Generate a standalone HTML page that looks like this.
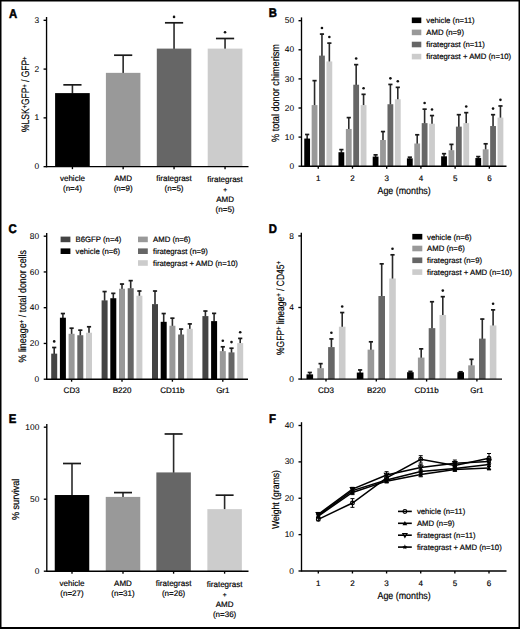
<!DOCTYPE html>
<html><head><meta charset="utf-8"><style>
html,body{margin:0;padding:0;background:#fff;}
body{width:520px;height:629px;overflow:hidden;}
svg{display:block;}
text{font-family:"Liberation Sans", sans-serif;fill:#000;stroke:#000;stroke-width:0.18px;text-rendering:geometricPrecision;}
text.pl{stroke-width:0.5px;}
text.tk{stroke-width:0.05px;}
</style></head><body>
<svg width="520" height="629" viewBox="0 0 520 629">
<rect x="0" y="0" width="520" height="629" fill="#fff"/>
<text transform="translate(9.00 17.50) scale(0.9 1)" x="0" y="0" font-size="12.6" font-weight="bold" class="pl">A</text>
<line x1="72.42" y1="84.55" x2="72.42" y2="93.60" stroke="#2a2a2a" stroke-width="1.6"/>
<line x1="63.32" y1="84.85" x2="81.52" y2="84.85" stroke="#1a1a1a" stroke-width="1.7"/>
<rect x="55.10" y="93.10" width="34.65" height="73.55" fill="#000"/>
<line x1="123.15" y1="54.90" x2="123.15" y2="73.35" stroke="#2a2a2a" stroke-width="1.6"/>
<line x1="114.05" y1="55.20" x2="132.25" y2="55.20" stroke="#1a1a1a" stroke-width="1.7"/>
<rect x="105.90" y="72.85" width="34.50" height="93.80" fill="#999"/>
<line x1="174.05" y1="22.50" x2="174.05" y2="49.10" stroke="#2a2a2a" stroke-width="1.6"/>
<line x1="164.95" y1="22.80" x2="183.15" y2="22.80" stroke="#1a1a1a" stroke-width="1.7"/>
<rect x="156.80" y="48.60" width="34.50" height="118.05" fill="#666"/>
<circle cx="174.05" cy="16.90" r="1.3" fill="#111"/>
<line x1="225.05" y1="38.20" x2="225.05" y2="49.10" stroke="#2a2a2a" stroke-width="1.6"/>
<line x1="215.95" y1="38.50" x2="234.15" y2="38.50" stroke="#1a1a1a" stroke-width="1.7"/>
<rect x="207.70" y="48.60" width="34.70" height="118.05" fill="#ccc"/>
<circle cx="225.05" cy="32.20" r="1.3" fill="#111"/>
<line x1="46.55" y1="17.01" x2="46.55" y2="167.35" stroke="#000" stroke-width="1.35"/>
<line x1="43.55" y1="166.65" x2="46.55" y2="166.65" stroke="#000" stroke-width="1.35"/>
<text transform="translate(39.10 169.25)" font-size="8.4" text-anchor="end" font-weight="normal" class="tk">0</text>
<line x1="43.55" y1="117.87" x2="46.55" y2="117.87" stroke="#000" stroke-width="1.35"/>
<text transform="translate(39.10 120.47)" font-size="8.4" text-anchor="end" font-weight="normal" class="tk">1</text>
<line x1="43.55" y1="69.09" x2="46.55" y2="69.09" stroke="#000" stroke-width="1.35"/>
<text transform="translate(39.10 71.69)" font-size="8.4" text-anchor="end" font-weight="normal" class="tk">2</text>
<line x1="43.55" y1="20.31" x2="46.55" y2="20.31" stroke="#000" stroke-width="1.35"/>
<text transform="translate(39.10 22.91)" font-size="8.4" text-anchor="end" font-weight="normal" class="tk">3</text>
<line x1="46.55" y1="166.65" x2="248.50" y2="166.65" stroke="#000" stroke-width="1.35"/>
<line x1="72.42" y1="166.65" x2="72.42" y2="169.15" stroke="#000" stroke-width="1.35"/>
<line x1="123.15" y1="166.65" x2="123.15" y2="169.15" stroke="#000" stroke-width="1.35"/>
<line x1="174.05" y1="166.65" x2="174.05" y2="169.15" stroke="#000" stroke-width="1.35"/>
<line x1="225.05" y1="166.65" x2="225.05" y2="169.15" stroke="#000" stroke-width="1.35"/>
<text transform="translate(29.00 94.25) rotate(-90)" x="0" y="0" font-size="10.8" text-anchor="middle" textLength="75.3" lengthAdjust="spacingAndGlyphs">%LSK<tspan font-size="7.4" dy="-2.3">+</tspan><tspan dy="2.3">GFP</tspan><tspan font-size="7.4" dy="-2.3">+</tspan><tspan dy="2.3"> / GFP</tspan><tspan font-size="7.4" dy="-2.3">+</tspan></text>
<text transform="translate(72.42 181.20)" font-size="8" text-anchor="middle" font-weight="normal">vehicle</text>
<text transform="translate(72.42 191.00)" font-size="8" text-anchor="middle" font-weight="normal">(n=4)</text>
<text transform="translate(123.15 181.20)" font-size="8" text-anchor="middle" font-weight="normal">AMD</text>
<text transform="translate(123.15 191.00)" font-size="8" text-anchor="middle" font-weight="normal">(n=9)</text>
<text transform="translate(174.05 181.20)" font-size="8" text-anchor="middle" font-weight="normal">firategrast</text>
<text transform="translate(174.05 191.00)" font-size="8" text-anchor="middle" font-weight="normal">(n=5)</text>
<text transform="translate(225.05 182.30)" font-size="8" text-anchor="middle" font-weight="normal">firategrast</text>
<text transform="translate(225.05 192.10)" font-size="6.6" text-anchor="middle" font-weight="normal">+</text>
<text transform="translate(225.05 201.90)" font-size="8" text-anchor="middle" font-weight="normal">AMD</text>
<text transform="translate(225.05 211.70)" font-size="8" text-anchor="middle" font-weight="normal">(n=5)</text>
<text transform="translate(268.70 17.10) scale(0.9 1)" x="0" y="0" font-size="12.6" font-weight="bold" class="pl">B</text>
<line x1="307.15" y1="134.19" x2="307.15" y2="139.05" stroke="#2a2a2a" stroke-width="1.6"/>
<line x1="305.05" y1="134.49" x2="309.25" y2="134.49" stroke="#1a1a1a" stroke-width="1.7"/>
<rect x="304.25" y="138.55" width="5.80" height="27.65" fill="#000"/>
<line x1="314.55" y1="80.35" x2="314.55" y2="105.59" stroke="#2a2a2a" stroke-width="1.6"/>
<line x1="312.45" y1="80.65" x2="316.65" y2="80.65" stroke="#1a1a1a" stroke-width="1.7"/>
<rect x="311.65" y="105.09" width="5.80" height="61.11" fill="#999"/>
<line x1="321.95" y1="33.79" x2="321.95" y2="56.12" stroke="#2a2a2a" stroke-width="1.6"/>
<line x1="319.85" y1="34.09" x2="324.05" y2="34.09" stroke="#1a1a1a" stroke-width="1.7"/>
<rect x="319.05" y="55.62" width="5.80" height="110.58" fill="#666"/>
<circle cx="321.95" cy="27.99" r="1.3" fill="#111"/>
<line x1="329.35" y1="42.82" x2="329.35" y2="61.94" stroke="#2a2a2a" stroke-width="1.6"/>
<line x1="327.25" y1="43.12" x2="331.45" y2="43.12" stroke="#1a1a1a" stroke-width="1.7"/>
<rect x="326.45" y="61.44" width="5.80" height="104.76" fill="#ccc"/>
<circle cx="329.35" cy="37.02" r="1.3" fill="#111"/>
<line x1="341.37" y1="149.32" x2="341.37" y2="152.73" stroke="#2a2a2a" stroke-width="1.6"/>
<line x1="339.27" y1="149.62" x2="343.47" y2="149.62" stroke="#1a1a1a" stroke-width="1.7"/>
<rect x="338.47" y="152.23" width="5.80" height="13.97" fill="#000"/>
<line x1="348.77" y1="117.31" x2="348.77" y2="129.45" stroke="#2a2a2a" stroke-width="1.6"/>
<line x1="346.67" y1="117.61" x2="350.87" y2="117.61" stroke="#1a1a1a" stroke-width="1.7"/>
<rect x="345.87" y="128.95" width="5.80" height="37.25" fill="#999"/>
<line x1="356.17" y1="64.35" x2="356.17" y2="85.22" stroke="#2a2a2a" stroke-width="1.6"/>
<line x1="354.07" y1="64.65" x2="358.27" y2="64.65" stroke="#1a1a1a" stroke-width="1.7"/>
<rect x="353.27" y="84.72" width="5.80" height="81.48" fill="#666"/>
<circle cx="356.17" cy="58.55" r="1.3" fill="#111"/>
<line x1="363.57" y1="94.03" x2="363.57" y2="105.59" stroke="#2a2a2a" stroke-width="1.6"/>
<line x1="361.47" y1="94.33" x2="365.67" y2="94.33" stroke="#1a1a1a" stroke-width="1.7"/>
<rect x="360.67" y="105.09" width="5.80" height="61.11" fill="#ccc"/>
<circle cx="363.57" cy="88.23" r="1.3" fill="#111"/>
<line x1="375.59" y1="154.56" x2="375.59" y2="157.10" stroke="#2a2a2a" stroke-width="1.6"/>
<line x1="373.49" y1="154.86" x2="377.69" y2="154.86" stroke="#1a1a1a" stroke-width="1.7"/>
<rect x="372.69" y="156.60" width="5.80" height="9.60" fill="#000"/>
<line x1="382.99" y1="131.28" x2="382.99" y2="140.51" stroke="#2a2a2a" stroke-width="1.6"/>
<line x1="380.89" y1="131.58" x2="385.09" y2="131.58" stroke="#1a1a1a" stroke-width="1.7"/>
<rect x="380.09" y="140.01" width="5.80" height="26.19" fill="#999"/>
<line x1="390.39" y1="84.14" x2="390.39" y2="104.72" stroke="#2a2a2a" stroke-width="1.6"/>
<line x1="388.29" y1="84.44" x2="392.49" y2="84.44" stroke="#1a1a1a" stroke-width="1.7"/>
<rect x="387.49" y="104.22" width="5.80" height="61.98" fill="#666"/>
<circle cx="390.39" cy="78.34" r="1.3" fill="#111"/>
<line x1="397.79" y1="87.05" x2="397.79" y2="99.77" stroke="#2a2a2a" stroke-width="1.6"/>
<line x1="395.69" y1="87.35" x2="399.89" y2="87.35" stroke="#1a1a1a" stroke-width="1.7"/>
<rect x="394.89" y="99.27" width="5.80" height="66.93" fill="#ccc"/>
<circle cx="397.79" cy="81.25" r="1.3" fill="#111"/>
<line x1="409.81" y1="156.89" x2="409.81" y2="158.84" stroke="#2a2a2a" stroke-width="1.6"/>
<line x1="407.71" y1="157.19" x2="411.91" y2="157.19" stroke="#1a1a1a" stroke-width="1.7"/>
<rect x="406.91" y="158.34" width="5.80" height="7.86" fill="#000"/>
<line x1="417.21" y1="134.48" x2="417.21" y2="144.00" stroke="#2a2a2a" stroke-width="1.6"/>
<line x1="415.11" y1="134.78" x2="419.31" y2="134.78" stroke="#1a1a1a" stroke-width="1.7"/>
<rect x="414.31" y="143.50" width="5.80" height="22.70" fill="#999"/>
<line x1="424.61" y1="108.87" x2="424.61" y2="123.63" stroke="#2a2a2a" stroke-width="1.6"/>
<line x1="422.51" y1="109.17" x2="426.71" y2="109.17" stroke="#1a1a1a" stroke-width="1.7"/>
<rect x="421.71" y="123.13" width="5.80" height="43.07" fill="#666"/>
<circle cx="424.61" cy="103.07" r="1.3" fill="#111"/>
<line x1="432.01" y1="115.27" x2="432.01" y2="124.21" stroke="#2a2a2a" stroke-width="1.6"/>
<line x1="429.91" y1="115.57" x2="434.11" y2="115.57" stroke="#1a1a1a" stroke-width="1.7"/>
<rect x="429.11" y="123.71" width="5.80" height="42.49" fill="#ccc"/>
<circle cx="432.01" cy="109.47" r="1.3" fill="#111"/>
<line x1="444.03" y1="153.40" x2="444.03" y2="156.81" stroke="#2a2a2a" stroke-width="1.6"/>
<line x1="441.93" y1="153.70" x2="446.13" y2="153.70" stroke="#1a1a1a" stroke-width="1.7"/>
<rect x="441.13" y="156.31" width="5.80" height="9.89" fill="#000"/>
<line x1="451.43" y1="144.08" x2="451.43" y2="150.69" stroke="#2a2a2a" stroke-width="1.6"/>
<line x1="449.33" y1="144.38" x2="453.53" y2="144.38" stroke="#1a1a1a" stroke-width="1.7"/>
<rect x="448.53" y="150.19" width="5.80" height="16.00" fill="#999"/>
<line x1="458.83" y1="114.40" x2="458.83" y2="127.12" stroke="#2a2a2a" stroke-width="1.6"/>
<line x1="456.73" y1="114.70" x2="460.93" y2="114.70" stroke="#1a1a1a" stroke-width="1.7"/>
<rect x="455.93" y="126.62" width="5.80" height="39.58" fill="#666"/>
<line x1="466.23" y1="112.36" x2="466.23" y2="123.63" stroke="#2a2a2a" stroke-width="1.6"/>
<line x1="464.13" y1="112.66" x2="468.33" y2="112.66" stroke="#1a1a1a" stroke-width="1.7"/>
<rect x="463.33" y="123.13" width="5.80" height="43.07" fill="#ccc"/>
<circle cx="466.23" cy="106.56" r="1.3" fill="#111"/>
<line x1="478.25" y1="156.31" x2="478.25" y2="158.55" stroke="#2a2a2a" stroke-width="1.6"/>
<line x1="476.15" y1="156.61" x2="480.35" y2="156.61" stroke="#1a1a1a" stroke-width="1.7"/>
<rect x="475.35" y="158.05" width="5.80" height="8.15" fill="#000"/>
<line x1="485.65" y1="143.50" x2="485.65" y2="149.82" stroke="#2a2a2a" stroke-width="1.6"/>
<line x1="483.55" y1="143.80" x2="487.75" y2="143.80" stroke="#1a1a1a" stroke-width="1.7"/>
<rect x="482.75" y="149.32" width="5.80" height="16.88" fill="#999"/>
<line x1="493.05" y1="114.40" x2="493.05" y2="126.54" stroke="#2a2a2a" stroke-width="1.6"/>
<line x1="490.95" y1="114.70" x2="495.15" y2="114.70" stroke="#1a1a1a" stroke-width="1.7"/>
<rect x="490.15" y="126.04" width="5.80" height="40.16" fill="#666"/>
<circle cx="493.05" cy="108.60" r="1.3" fill="#111"/>
<line x1="500.45" y1="105.67" x2="500.45" y2="118.10" stroke="#2a2a2a" stroke-width="1.6"/>
<line x1="498.35" y1="105.97" x2="502.55" y2="105.97" stroke="#1a1a1a" stroke-width="1.7"/>
<rect x="497.55" y="117.60" width="5.80" height="48.60" fill="#ccc"/>
<circle cx="500.45" cy="99.87" r="1.3" fill="#111"/>
<line x1="301.50" y1="17.40" x2="301.50" y2="166.90" stroke="#000" stroke-width="1.35"/>
<line x1="298.50" y1="166.20" x2="301.50" y2="166.20" stroke="#000" stroke-width="1.35"/>
<text transform="translate(294.20 168.80)" font-size="8.4" text-anchor="end" font-weight="normal" class="tk">0</text>
<line x1="298.50" y1="137.10" x2="301.50" y2="137.10" stroke="#000" stroke-width="1.35"/>
<text transform="translate(294.20 139.70)" font-size="8.4" text-anchor="end" font-weight="normal" class="tk">10</text>
<line x1="298.50" y1="108.00" x2="301.50" y2="108.00" stroke="#000" stroke-width="1.35"/>
<text transform="translate(294.20 110.60)" font-size="8.4" text-anchor="end" font-weight="normal" class="tk">20</text>
<line x1="298.50" y1="78.90" x2="301.50" y2="78.90" stroke="#000" stroke-width="1.35"/>
<text transform="translate(294.20 81.50)" font-size="8.4" text-anchor="end" font-weight="normal" class="tk">30</text>
<line x1="298.50" y1="49.80" x2="301.50" y2="49.80" stroke="#000" stroke-width="1.35"/>
<text transform="translate(294.20 52.40)" font-size="8.4" text-anchor="end" font-weight="normal" class="tk">40</text>
<line x1="298.50" y1="20.70" x2="301.50" y2="20.70" stroke="#000" stroke-width="1.35"/>
<text transform="translate(294.20 23.30)" font-size="8.4" text-anchor="end" font-weight="normal" class="tk">50</text>
<line x1="301.50" y1="166.20" x2="506.50" y2="166.20" stroke="#000" stroke-width="1.35"/>
<line x1="318.25" y1="166.20" x2="318.25" y2="168.70" stroke="#000" stroke-width="1.35"/>
<line x1="352.47" y1="166.20" x2="352.47" y2="168.70" stroke="#000" stroke-width="1.35"/>
<line x1="386.69" y1="166.20" x2="386.69" y2="168.70" stroke="#000" stroke-width="1.35"/>
<line x1="420.91" y1="166.20" x2="420.91" y2="168.70" stroke="#000" stroke-width="1.35"/>
<line x1="455.13" y1="166.20" x2="455.13" y2="168.70" stroke="#000" stroke-width="1.35"/>
<line x1="489.35" y1="166.20" x2="489.35" y2="168.70" stroke="#000" stroke-width="1.35"/>
<text transform="translate(318.25 181.00)" font-size="8" text-anchor="middle" font-weight="normal">1</text>
<text transform="translate(352.47 181.00)" font-size="8" text-anchor="middle" font-weight="normal">2</text>
<text transform="translate(386.69 181.00)" font-size="8" text-anchor="middle" font-weight="normal">3</text>
<text transform="translate(420.91 181.00)" font-size="8" text-anchor="middle" font-weight="normal">4</text>
<text transform="translate(455.13 181.00)" font-size="8" text-anchor="middle" font-weight="normal">5</text>
<text transform="translate(489.35 181.00)" font-size="8" text-anchor="middle" font-weight="normal">6</text>
<text transform="translate(404.10 193.50)" x="0" y="0" font-size="10" text-anchor="middle" textLength="53.3" lengthAdjust="spacingAndGlyphs">Age (months)</text>
<text transform="translate(279.00 93.05) rotate(-90)" x="0" y="0" font-size="10.6" text-anchor="middle" textLength="97.9" lengthAdjust="spacingAndGlyphs">% total donor chimerism</text>
<rect x="411.80" y="17.50" width="9.50" height="5.60" fill="#000"/>
<text transform="translate(426.30 23.10)" font-size="7.75" text-anchor="start" font-weight="normal">vehicle (n=11)</text>
<rect x="411.80" y="29.60" width="9.50" height="5.60" fill="#999"/>
<text transform="translate(426.30 35.20)" font-size="7.75" text-anchor="start" font-weight="normal">AMD (n=9)</text>
<rect x="411.80" y="41.70" width="9.50" height="5.60" fill="#666"/>
<text transform="translate(426.30 47.30)" font-size="7.75" text-anchor="start" font-weight="normal">firategrast (n=11)</text>
<rect x="411.80" y="53.80" width="9.50" height="5.60" fill="#ccc"/>
<text transform="translate(426.30 59.40)" font-size="7.75" text-anchor="start" font-weight="normal">firategrast + AMD (n=10)</text>
<text transform="translate(8.60 233.10) scale(0.9 1)" x="0" y="0" font-size="12.6" font-weight="bold" class="pl">C</text>
<line x1="54.20" y1="347.20" x2="54.20" y2="354.14" stroke="#2a2a2a" stroke-width="1.6"/>
<line x1="52.10" y1="347.50" x2="56.30" y2="347.50" stroke="#1a1a1a" stroke-width="1.7"/>
<rect x="51.20" y="353.64" width="6.00" height="25.56" fill="#444"/>
<circle cx="54.20" cy="341.40" r="1.3" fill="#111"/>
<line x1="62.90" y1="313.24" x2="62.90" y2="318.21" stroke="#2a2a2a" stroke-width="1.6"/>
<line x1="60.80" y1="313.54" x2="65.00" y2="313.54" stroke="#1a1a1a" stroke-width="1.7"/>
<rect x="59.90" y="317.71" width="6.00" height="61.49" fill="#000"/>
<line x1="71.60" y1="327.90" x2="71.60" y2="334.30" stroke="#2a2a2a" stroke-width="1.6"/>
<line x1="69.50" y1="328.20" x2="73.70" y2="328.20" stroke="#1a1a1a" stroke-width="1.7"/>
<rect x="68.60" y="333.80" width="6.00" height="45.40" fill="#999"/>
<line x1="80.30" y1="329.87" x2="80.30" y2="335.73" stroke="#2a2a2a" stroke-width="1.6"/>
<line x1="78.20" y1="330.17" x2="82.40" y2="330.17" stroke="#1a1a1a" stroke-width="1.7"/>
<rect x="77.30" y="335.23" width="6.00" height="43.97" fill="#666"/>
<line x1="89.00" y1="326.47" x2="89.00" y2="333.22" stroke="#2a2a2a" stroke-width="1.6"/>
<line x1="86.90" y1="326.77" x2="91.10" y2="326.77" stroke="#1a1a1a" stroke-width="1.7"/>
<rect x="86.00" y="332.72" width="6.00" height="46.48" fill="#ccc"/>
<line x1="104.60" y1="291.25" x2="104.60" y2="300.87" stroke="#2a2a2a" stroke-width="1.6"/>
<line x1="102.50" y1="291.56" x2="106.70" y2="291.56" stroke="#1a1a1a" stroke-width="1.7"/>
<rect x="101.60" y="300.37" width="6.00" height="78.83" fill="#444"/>
<line x1="113.30" y1="293.04" x2="113.30" y2="298.73" stroke="#2a2a2a" stroke-width="1.6"/>
<line x1="111.20" y1="293.34" x2="115.40" y2="293.34" stroke="#1a1a1a" stroke-width="1.7"/>
<rect x="110.30" y="298.23" width="6.00" height="80.97" fill="#000"/>
<line x1="122.00" y1="283.75" x2="122.00" y2="289.25" stroke="#2a2a2a" stroke-width="1.6"/>
<line x1="119.90" y1="284.05" x2="124.10" y2="284.05" stroke="#1a1a1a" stroke-width="1.7"/>
<rect x="119.00" y="288.75" width="6.00" height="90.45" fill="#999"/>
<line x1="130.70" y1="280.35" x2="130.70" y2="288.72" stroke="#2a2a2a" stroke-width="1.6"/>
<line x1="128.60" y1="280.65" x2="132.80" y2="280.65" stroke="#1a1a1a" stroke-width="1.7"/>
<rect x="127.70" y="288.22" width="6.00" height="90.98" fill="#666"/>
<line x1="139.40" y1="290.72" x2="139.40" y2="296.22" stroke="#2a2a2a" stroke-width="1.6"/>
<line x1="137.30" y1="291.02" x2="141.50" y2="291.02" stroke="#1a1a1a" stroke-width="1.7"/>
<rect x="136.40" y="295.72" width="6.00" height="83.48" fill="#ccc"/>
<line x1="155.00" y1="290.72" x2="155.00" y2="304.62" stroke="#2a2a2a" stroke-width="1.6"/>
<line x1="152.90" y1="291.02" x2="157.10" y2="291.02" stroke="#1a1a1a" stroke-width="1.7"/>
<rect x="152.00" y="304.12" width="6.00" height="75.07" fill="#444"/>
<line x1="163.70" y1="313.24" x2="163.70" y2="322.32" stroke="#2a2a2a" stroke-width="1.6"/>
<line x1="161.60" y1="313.54" x2="165.80" y2="313.54" stroke="#1a1a1a" stroke-width="1.7"/>
<rect x="160.70" y="321.82" width="6.00" height="57.38" fill="#000"/>
<line x1="172.40" y1="317.89" x2="172.40" y2="326.25" stroke="#2a2a2a" stroke-width="1.6"/>
<line x1="170.30" y1="318.19" x2="174.50" y2="318.19" stroke="#1a1a1a" stroke-width="1.7"/>
<rect x="169.40" y="325.75" width="6.00" height="53.45" fill="#999"/>
<line x1="181.10" y1="328.79" x2="181.10" y2="335.01" stroke="#2a2a2a" stroke-width="1.6"/>
<line x1="179.00" y1="329.09" x2="183.20" y2="329.09" stroke="#1a1a1a" stroke-width="1.7"/>
<rect x="178.10" y="334.51" width="6.00" height="44.69" fill="#666"/>
<line x1="189.80" y1="323.61" x2="189.80" y2="329.29" stroke="#2a2a2a" stroke-width="1.6"/>
<line x1="187.70" y1="323.91" x2="191.90" y2="323.91" stroke="#1a1a1a" stroke-width="1.7"/>
<rect x="186.80" y="328.79" width="6.00" height="50.41" fill="#ccc"/>
<line x1="205.40" y1="310.74" x2="205.40" y2="316.60" stroke="#2a2a2a" stroke-width="1.6"/>
<line x1="203.30" y1="311.04" x2="207.50" y2="311.04" stroke="#1a1a1a" stroke-width="1.7"/>
<rect x="202.40" y="316.10" width="6.00" height="63.10" fill="#444"/>
<line x1="214.10" y1="313.06" x2="214.10" y2="321.61" stroke="#2a2a2a" stroke-width="1.6"/>
<line x1="212.00" y1="313.36" x2="216.20" y2="313.36" stroke="#1a1a1a" stroke-width="1.7"/>
<rect x="211.10" y="321.11" width="6.00" height="58.09" fill="#000"/>
<line x1="222.80" y1="346.49" x2="222.80" y2="351.64" stroke="#2a2a2a" stroke-width="1.6"/>
<line x1="220.70" y1="346.79" x2="224.90" y2="346.79" stroke="#1a1a1a" stroke-width="1.7"/>
<rect x="219.80" y="351.14" width="6.00" height="28.06" fill="#999"/>
<circle cx="222.80" cy="340.69" r="1.3" fill="#111"/>
<line x1="231.50" y1="347.92" x2="231.50" y2="352.89" stroke="#2a2a2a" stroke-width="1.6"/>
<line x1="229.40" y1="348.22" x2="233.60" y2="348.22" stroke="#1a1a1a" stroke-width="1.7"/>
<rect x="228.50" y="352.39" width="6.00" height="26.81" fill="#666"/>
<circle cx="231.50" cy="342.12" r="1.3" fill="#111"/>
<line x1="240.20" y1="338.09" x2="240.20" y2="343.59" stroke="#2a2a2a" stroke-width="1.6"/>
<line x1="238.10" y1="338.39" x2="242.30" y2="338.39" stroke="#1a1a1a" stroke-width="1.7"/>
<rect x="237.20" y="343.09" width="6.00" height="36.11" fill="#ccc"/>
<circle cx="240.20" cy="332.29" r="1.3" fill="#111"/>
<line x1="46.70" y1="232.90" x2="46.70" y2="379.90" stroke="#000" stroke-width="1.35"/>
<line x1="43.70" y1="379.20" x2="46.70" y2="379.20" stroke="#000" stroke-width="1.35"/>
<text transform="translate(39.20 381.80)" font-size="8.4" text-anchor="end" font-weight="normal" class="tk">0</text>
<line x1="43.70" y1="343.45" x2="46.70" y2="343.45" stroke="#000" stroke-width="1.35"/>
<text transform="translate(39.20 346.05)" font-size="8.4" text-anchor="end" font-weight="normal" class="tk">20</text>
<line x1="43.70" y1="307.70" x2="46.70" y2="307.70" stroke="#000" stroke-width="1.35"/>
<text transform="translate(39.20 310.30)" font-size="8.4" text-anchor="end" font-weight="normal" class="tk">40</text>
<line x1="43.70" y1="271.95" x2="46.70" y2="271.95" stroke="#000" stroke-width="1.35"/>
<text transform="translate(39.20 274.55)" font-size="8.4" text-anchor="end" font-weight="normal" class="tk">60</text>
<line x1="43.70" y1="236.20" x2="46.70" y2="236.20" stroke="#000" stroke-width="1.35"/>
<text transform="translate(39.20 238.80)" font-size="8.4" text-anchor="end" font-weight="normal" class="tk">80</text>
<line x1="46.70" y1="379.20" x2="248.00" y2="379.20" stroke="#000" stroke-width="1.35"/>
<line x1="71.60" y1="379.20" x2="71.60" y2="381.70" stroke="#000" stroke-width="1.35"/>
<line x1="122.00" y1="379.20" x2="122.00" y2="381.70" stroke="#000" stroke-width="1.35"/>
<line x1="172.40" y1="379.20" x2="172.40" y2="381.70" stroke="#000" stroke-width="1.35"/>
<line x1="222.80" y1="379.20" x2="222.80" y2="381.70" stroke="#000" stroke-width="1.35"/>
<text transform="translate(71.60 393.30)" font-size="8" text-anchor="middle" font-weight="normal">CD3</text>
<text transform="translate(122.00 393.30)" font-size="8" text-anchor="middle" font-weight="normal">B220</text>
<text transform="translate(172.40 393.30)" font-size="8" text-anchor="middle" font-weight="normal">CD11b</text>
<text transform="translate(222.80 393.30)" font-size="8" text-anchor="middle" font-weight="normal">Gr1</text>
<text transform="translate(26.00 306.25) rotate(-90)" x="0" y="0" font-size="10.6" text-anchor="middle" textLength="112.5" lengthAdjust="spacingAndGlyphs">% lineage<tspan font-size="7.4" dy="-2.3">+</tspan><tspan dy="2.3"> / total donor cells</tspan></text>
<rect x="60.60" y="236.60" width="9.80" height="5.60" fill="#444"/>
<text transform="translate(75.60 242.20)" font-size="7.75" text-anchor="start" font-weight="normal">B6GFP (n=4)</text>
<rect x="60.60" y="248.40" width="9.80" height="5.60" fill="#000"/>
<text transform="translate(75.60 254.00)" font-size="7.75" text-anchor="start" font-weight="normal">vehicle (n=6)</text>
<rect x="138.00" y="236.60" width="9.80" height="5.60" fill="#999"/>
<text transform="translate(153.00 242.20)" font-size="7.75" text-anchor="start" font-weight="normal">AMD (n=6)</text>
<rect x="138.00" y="248.40" width="9.80" height="5.60" fill="#666"/>
<text transform="translate(153.00 254.00)" font-size="7.75" text-anchor="start" font-weight="normal">firategrast (n=9)</text>
<rect x="138.00" y="260.20" width="9.80" height="5.60" fill="#ccc"/>
<text transform="translate(153.00 265.80)" font-size="7.75" text-anchor="start" font-weight="normal">firategrast + AMD (n=10)</text>
<text transform="translate(268.70 232.90) scale(0.9 1)" x="0" y="0" font-size="12.6" font-weight="bold" class="pl">D</text>
<line x1="309.80" y1="372.19" x2="309.80" y2="374.86" stroke="#2a2a2a" stroke-width="1.6"/>
<line x1="307.70" y1="372.49" x2="311.90" y2="372.49" stroke="#1a1a1a" stroke-width="1.7"/>
<rect x="306.50" y="374.36" width="6.60" height="4.69" fill="#000"/>
<line x1="320.60" y1="363.35" x2="320.60" y2="368.72" stroke="#2a2a2a" stroke-width="1.6"/>
<line x1="318.50" y1="363.65" x2="322.70" y2="363.65" stroke="#1a1a1a" stroke-width="1.7"/>
<rect x="317.30" y="368.22" width="6.60" height="10.83" fill="#999"/>
<line x1="331.40" y1="338.62" x2="331.40" y2="347.60" stroke="#2a2a2a" stroke-width="1.6"/>
<line x1="329.30" y1="338.92" x2="333.50" y2="338.92" stroke="#1a1a1a" stroke-width="1.7"/>
<rect x="328.10" y="347.10" width="6.60" height="31.95" fill="#666"/>
<circle cx="331.40" cy="332.82" r="1.3" fill="#111"/>
<line x1="342.20" y1="312.26" x2="342.20" y2="327.21" stroke="#2a2a2a" stroke-width="1.6"/>
<line x1="340.10" y1="312.56" x2="344.30" y2="312.56" stroke="#1a1a1a" stroke-width="1.7"/>
<rect x="338.90" y="326.71" width="6.60" height="52.34" fill="#ccc"/>
<circle cx="342.20" cy="306.46" r="1.3" fill="#111"/>
<line x1="360.10" y1="369.66" x2="360.10" y2="373.05" stroke="#2a2a2a" stroke-width="1.6"/>
<line x1="358.00" y1="369.96" x2="362.20" y2="369.96" stroke="#1a1a1a" stroke-width="1.7"/>
<rect x="356.80" y="372.55" width="6.60" height="6.50" fill="#000"/>
<line x1="370.90" y1="341.51" x2="370.90" y2="350.13" stroke="#2a2a2a" stroke-width="1.6"/>
<line x1="368.80" y1="341.81" x2="373.00" y2="341.81" stroke="#1a1a1a" stroke-width="1.7"/>
<rect x="367.60" y="349.63" width="6.60" height="29.42" fill="#999"/>
<line x1="381.70" y1="263.53" x2="381.70" y2="296.52" stroke="#2a2a2a" stroke-width="1.6"/>
<line x1="379.60" y1="263.83" x2="383.80" y2="263.83" stroke="#1a1a1a" stroke-width="1.7"/>
<rect x="378.40" y="296.02" width="6.60" height="83.03" fill="#666"/>
<line x1="392.50" y1="254.50" x2="392.50" y2="279.01" stroke="#2a2a2a" stroke-width="1.6"/>
<line x1="390.40" y1="254.81" x2="394.60" y2="254.81" stroke="#1a1a1a" stroke-width="1.7"/>
<rect x="389.20" y="278.51" width="6.60" height="100.54" fill="#ccc"/>
<circle cx="392.50" cy="248.70" r="1.3" fill="#111"/>
<line x1="410.40" y1="371.11" x2="410.40" y2="372.69" stroke="#2a2a2a" stroke-width="1.6"/>
<line x1="408.30" y1="371.41" x2="412.50" y2="371.41" stroke="#1a1a1a" stroke-width="1.7"/>
<rect x="407.10" y="372.19" width="6.60" height="6.86" fill="#000"/>
<line x1="421.20" y1="348.55" x2="421.20" y2="358.07" stroke="#2a2a2a" stroke-width="1.6"/>
<line x1="419.10" y1="348.85" x2="423.30" y2="348.85" stroke="#1a1a1a" stroke-width="1.7"/>
<rect x="417.90" y="357.57" width="6.60" height="21.48" fill="#999"/>
<line x1="432.00" y1="301.44" x2="432.00" y2="328.65" stroke="#2a2a2a" stroke-width="1.6"/>
<line x1="429.90" y1="301.74" x2="434.10" y2="301.74" stroke="#1a1a1a" stroke-width="1.7"/>
<rect x="428.70" y="328.15" width="6.60" height="50.90" fill="#666"/>
<line x1="442.80" y1="296.38" x2="442.80" y2="315.47" stroke="#2a2a2a" stroke-width="1.6"/>
<line x1="440.70" y1="296.68" x2="444.90" y2="296.68" stroke="#1a1a1a" stroke-width="1.7"/>
<rect x="439.50" y="314.97" width="6.60" height="64.08" fill="#ccc"/>
<circle cx="442.80" cy="290.58" r="1.3" fill="#111"/>
<line x1="460.70" y1="371.47" x2="460.70" y2="372.69" stroke="#2a2a2a" stroke-width="1.6"/>
<line x1="458.60" y1="371.77" x2="462.80" y2="371.77" stroke="#1a1a1a" stroke-width="1.7"/>
<rect x="457.40" y="372.19" width="6.60" height="6.86" fill="#000"/>
<line x1="471.50" y1="359.01" x2="471.50" y2="365.83" stroke="#2a2a2a" stroke-width="1.6"/>
<line x1="469.40" y1="359.31" x2="473.60" y2="359.31" stroke="#1a1a1a" stroke-width="1.7"/>
<rect x="468.20" y="365.33" width="6.60" height="13.72" fill="#999"/>
<line x1="482.30" y1="318.76" x2="482.30" y2="339.12" stroke="#2a2a2a" stroke-width="1.6"/>
<line x1="480.20" y1="319.06" x2="484.40" y2="319.06" stroke="#1a1a1a" stroke-width="1.7"/>
<rect x="479.00" y="338.62" width="6.60" height="40.43" fill="#666"/>
<line x1="493.10" y1="309.56" x2="493.10" y2="325.94" stroke="#2a2a2a" stroke-width="1.6"/>
<line x1="491.00" y1="309.86" x2="495.20" y2="309.86" stroke="#1a1a1a" stroke-width="1.7"/>
<rect x="489.80" y="325.44" width="6.60" height="53.61" fill="#ccc"/>
<circle cx="493.10" cy="303.76" r="1.3" fill="#111"/>
<line x1="301.30" y1="232.63" x2="301.30" y2="379.75" stroke="#000" stroke-width="1.35"/>
<line x1="298.30" y1="379.05" x2="301.30" y2="379.05" stroke="#000" stroke-width="1.35"/>
<text transform="translate(293.90 381.65)" font-size="8.4" text-anchor="end" font-weight="normal" class="tk">0</text>
<line x1="298.30" y1="307.49" x2="301.30" y2="307.49" stroke="#000" stroke-width="1.35"/>
<text transform="translate(293.90 310.09)" font-size="8.4" text-anchor="end" font-weight="normal" class="tk">4</text>
<line x1="298.30" y1="235.93" x2="301.30" y2="235.93" stroke="#000" stroke-width="1.35"/>
<text transform="translate(293.90 238.53)" font-size="8.4" text-anchor="end" font-weight="normal" class="tk">8</text>
<line x1="301.30" y1="379.05" x2="502.00" y2="379.05" stroke="#000" stroke-width="1.35"/>
<line x1="326.00" y1="379.05" x2="326.00" y2="381.55" stroke="#000" stroke-width="1.35"/>
<line x1="376.30" y1="379.05" x2="376.30" y2="381.55" stroke="#000" stroke-width="1.35"/>
<line x1="426.60" y1="379.05" x2="426.60" y2="381.55" stroke="#000" stroke-width="1.35"/>
<line x1="476.90" y1="379.05" x2="476.90" y2="381.55" stroke="#000" stroke-width="1.35"/>
<text transform="translate(326.00 393.30)" font-size="8" text-anchor="middle" font-weight="normal">CD3</text>
<text transform="translate(376.30 393.30)" font-size="8" text-anchor="middle" font-weight="normal">B220</text>
<text transform="translate(426.60 393.30)" font-size="8" text-anchor="middle" font-weight="normal">CD11b</text>
<text transform="translate(476.90 393.30)" font-size="8" text-anchor="middle" font-weight="normal">Gr1</text>
<text transform="translate(283.70 308.00) rotate(-90)" x="0" y="0" font-size="10.6" text-anchor="middle" textLength="93.9" lengthAdjust="spacingAndGlyphs">%GFP<tspan font-size="7.4" dy="-2.3">+</tspan><tspan dy="2.3"> lineage</tspan><tspan font-size="7.4" dy="-2.3">+</tspan><tspan dy="2.3"> / CD45</tspan><tspan font-size="7.4" dy="-2.3">+</tspan></text>
<rect x="412.30" y="233.90" width="10.00" height="5.60" fill="#000"/>
<text transform="translate(427.10 239.50)" font-size="7.75" text-anchor="start" font-weight="normal">vehicle (n=6)</text>
<rect x="412.30" y="245.70" width="10.00" height="5.60" fill="#999"/>
<text transform="translate(427.10 251.30)" font-size="7.75" text-anchor="start" font-weight="normal">AMD (n=6)</text>
<rect x="412.30" y="257.50" width="10.00" height="5.60" fill="#666"/>
<text transform="translate(427.10 263.10)" font-size="7.75" text-anchor="start" font-weight="normal">firategrast (n=9)</text>
<rect x="412.30" y="269.30" width="10.00" height="5.60" fill="#ccc"/>
<text transform="translate(427.10 274.90)" font-size="7.75" text-anchor="start" font-weight="normal">firategrast + AMD (n=10)</text>
<text transform="translate(8.80 423.00) scale(0.9 1)" x="0" y="0" font-size="12.6" font-weight="bold" class="pl">E</text>
<line x1="72.00" y1="463.20" x2="72.00" y2="495.52" stroke="#2a2a2a" stroke-width="1.6"/>
<line x1="63.00" y1="463.50" x2="81.00" y2="463.50" stroke="#1a1a1a" stroke-width="1.7"/>
<rect x="54.75" y="495.02" width="34.50" height="76.18" fill="#000"/>
<line x1="123.00" y1="492.29" x2="123.00" y2="497.40" stroke="#2a2a2a" stroke-width="1.6"/>
<line x1="114.00" y1="492.59" x2="132.00" y2="492.59" stroke="#1a1a1a" stroke-width="1.7"/>
<rect x="105.75" y="496.90" width="34.50" height="74.30" fill="#999"/>
<line x1="173.60" y1="433.68" x2="173.60" y2="472.92" stroke="#2a2a2a" stroke-width="1.6"/>
<line x1="164.60" y1="433.98" x2="182.60" y2="433.98" stroke="#1a1a1a" stroke-width="1.7"/>
<rect x="156.35" y="472.42" width="34.50" height="98.78" fill="#666"/>
<line x1="224.60" y1="494.88" x2="224.60" y2="509.64" stroke="#2a2a2a" stroke-width="1.6"/>
<line x1="215.60" y1="495.18" x2="233.60" y2="495.18" stroke="#1a1a1a" stroke-width="1.7"/>
<rect x="207.35" y="509.14" width="34.50" height="62.06" fill="#ccc"/>
<line x1="46.80" y1="423.90" x2="46.80" y2="571.90" stroke="#000" stroke-width="1.35"/>
<line x1="43.80" y1="571.20" x2="46.80" y2="571.20" stroke="#000" stroke-width="1.35"/>
<text transform="translate(39.30 573.80)" font-size="8.4" text-anchor="end" font-weight="normal" class="tk">0</text>
<line x1="43.80" y1="499.20" x2="46.80" y2="499.20" stroke="#000" stroke-width="1.35"/>
<text transform="translate(39.30 501.80)" font-size="8.4" text-anchor="end" font-weight="normal" class="tk">50</text>
<line x1="43.80" y1="427.20" x2="46.80" y2="427.20" stroke="#000" stroke-width="1.35"/>
<text transform="translate(39.30 429.80)" font-size="8.4" text-anchor="end" font-weight="normal" class="tk">100</text>
<line x1="46.80" y1="571.20" x2="248.50" y2="571.20" stroke="#000" stroke-width="1.35"/>
<line x1="72.00" y1="571.20" x2="72.00" y2="573.70" stroke="#000" stroke-width="1.35"/>
<line x1="123.00" y1="571.20" x2="123.00" y2="573.70" stroke="#000" stroke-width="1.35"/>
<line x1="173.60" y1="571.20" x2="173.60" y2="573.70" stroke="#000" stroke-width="1.35"/>
<line x1="224.60" y1="571.20" x2="224.60" y2="573.70" stroke="#000" stroke-width="1.35"/>
<text transform="translate(18.90 499.35) rotate(-90)" x="0" y="0" font-size="10" text-anchor="middle" textLength="41.5" lengthAdjust="spacingAndGlyphs">% survival</text>
<text transform="translate(72.00 586.00)" font-size="8" text-anchor="middle" font-weight="normal">vehicle</text>
<text transform="translate(72.00 595.80)" font-size="8" text-anchor="middle" font-weight="normal">(n=27)</text>
<text transform="translate(123.00 586.00)" font-size="8" text-anchor="middle" font-weight="normal">AMD</text>
<text transform="translate(123.00 595.80)" font-size="8" text-anchor="middle" font-weight="normal">(n=31)</text>
<text transform="translate(173.60 586.00)" font-size="8" text-anchor="middle" font-weight="normal">firategrast</text>
<text transform="translate(173.60 595.80)" font-size="8" text-anchor="middle" font-weight="normal">(n=26)</text>
<text transform="translate(224.60 587.10)" font-size="8" text-anchor="middle" font-weight="normal">firategrast</text>
<text transform="translate(224.60 596.90)" font-size="6.6" text-anchor="middle" font-weight="normal">+</text>
<text transform="translate(224.60 606.70)" font-size="8" text-anchor="middle" font-weight="normal">AMD</text>
<text transform="translate(224.60 616.50)" font-size="8" text-anchor="middle" font-weight="normal">(n=36)</text>
<text transform="translate(269.10 422.90) scale(0.9 1)" x="0" y="0" font-size="12.6" font-weight="bold" class="pl">F</text>
<polyline points="318.30,519.35 352.44,502.98 386.58,477.88 420.72,459.33 454.86,465.51 489.00,458.24" fill="none" stroke="#000" stroke-width="1.5"/>
<line x1="318.30" y1="517.89" x2="318.30" y2="520.80" stroke="#000" stroke-width="1.0"/>
<line x1="316.30" y1="517.89" x2="320.30" y2="517.89" stroke="#000" stroke-width="1.0"/>
<line x1="316.30" y1="520.80" x2="320.30" y2="520.80" stroke="#000" stroke-width="1.0"/>
<line x1="352.44" y1="498.61" x2="352.44" y2="507.34" stroke="#000" stroke-width="1.0"/>
<line x1="350.44" y1="498.61" x2="354.44" y2="498.61" stroke="#000" stroke-width="1.0"/>
<line x1="350.44" y1="507.34" x2="354.44" y2="507.34" stroke="#000" stroke-width="1.0"/>
<line x1="386.58" y1="474.97" x2="386.58" y2="480.79" stroke="#000" stroke-width="1.0"/>
<line x1="384.58" y1="474.97" x2="388.58" y2="474.97" stroke="#000" stroke-width="1.0"/>
<line x1="384.58" y1="480.79" x2="388.58" y2="480.79" stroke="#000" stroke-width="1.0"/>
<line x1="420.72" y1="455.69" x2="420.72" y2="462.97" stroke="#000" stroke-width="1.0"/>
<line x1="418.72" y1="455.69" x2="422.72" y2="455.69" stroke="#000" stroke-width="1.0"/>
<line x1="418.72" y1="462.97" x2="422.72" y2="462.97" stroke="#000" stroke-width="1.0"/>
<line x1="454.86" y1="462.60" x2="454.86" y2="468.42" stroke="#000" stroke-width="1.0"/>
<line x1="452.86" y1="462.60" x2="456.86" y2="462.60" stroke="#000" stroke-width="1.0"/>
<line x1="452.86" y1="468.42" x2="456.86" y2="468.42" stroke="#000" stroke-width="1.0"/>
<line x1="489.00" y1="453.51" x2="489.00" y2="462.97" stroke="#000" stroke-width="1.0"/>
<line x1="487.00" y1="453.51" x2="491.00" y2="453.51" stroke="#000" stroke-width="1.0"/>
<line x1="487.00" y1="462.97" x2="491.00" y2="462.97" stroke="#000" stroke-width="1.0"/>
<polyline points="318.30,516.07 352.44,492.43 386.58,481.15 420.72,474.61 454.86,469.51 489.00,468.06" fill="none" stroke="#000" stroke-width="1.5"/>
<line x1="318.30" y1="514.25" x2="318.30" y2="517.89" stroke="#000" stroke-width="1.0"/>
<line x1="316.30" y1="514.25" x2="320.30" y2="514.25" stroke="#000" stroke-width="1.0"/>
<line x1="316.30" y1="517.89" x2="320.30" y2="517.89" stroke="#000" stroke-width="1.0"/>
<line x1="352.44" y1="490.25" x2="352.44" y2="494.61" stroke="#000" stroke-width="1.0"/>
<line x1="350.44" y1="490.25" x2="354.44" y2="490.25" stroke="#000" stroke-width="1.0"/>
<line x1="350.44" y1="494.61" x2="354.44" y2="494.61" stroke="#000" stroke-width="1.0"/>
<line x1="386.58" y1="479.33" x2="386.58" y2="482.97" stroke="#000" stroke-width="1.0"/>
<line x1="384.58" y1="479.33" x2="388.58" y2="479.33" stroke="#000" stroke-width="1.0"/>
<line x1="384.58" y1="482.97" x2="388.58" y2="482.97" stroke="#000" stroke-width="1.0"/>
<line x1="420.72" y1="472.42" x2="420.72" y2="476.79" stroke="#000" stroke-width="1.0"/>
<line x1="418.72" y1="472.42" x2="422.72" y2="472.42" stroke="#000" stroke-width="1.0"/>
<line x1="418.72" y1="476.79" x2="422.72" y2="476.79" stroke="#000" stroke-width="1.0"/>
<line x1="454.86" y1="467.69" x2="454.86" y2="471.33" stroke="#000" stroke-width="1.0"/>
<line x1="452.86" y1="467.69" x2="456.86" y2="467.69" stroke="#000" stroke-width="1.0"/>
<line x1="452.86" y1="471.33" x2="456.86" y2="471.33" stroke="#000" stroke-width="1.0"/>
<line x1="489.00" y1="466.24" x2="489.00" y2="469.88" stroke="#000" stroke-width="1.0"/>
<line x1="487.00" y1="466.24" x2="491.00" y2="466.24" stroke="#000" stroke-width="1.0"/>
<line x1="487.00" y1="469.88" x2="491.00" y2="469.88" stroke="#000" stroke-width="1.0"/>
<polyline points="318.30,514.25 352.44,489.16 386.58,474.97 420.72,467.51 454.86,463.33 489.00,461.51" fill="none" stroke="#000" stroke-width="1.5"/>
<line x1="318.30" y1="512.44" x2="318.30" y2="516.07" stroke="#000" stroke-width="1.0"/>
<line x1="316.30" y1="512.44" x2="320.30" y2="512.44" stroke="#000" stroke-width="1.0"/>
<line x1="316.30" y1="516.07" x2="320.30" y2="516.07" stroke="#000" stroke-width="1.0"/>
<line x1="352.44" y1="487.34" x2="352.44" y2="490.98" stroke="#000" stroke-width="1.0"/>
<line x1="350.44" y1="487.34" x2="354.44" y2="487.34" stroke="#000" stroke-width="1.0"/>
<line x1="350.44" y1="490.98" x2="354.44" y2="490.98" stroke="#000" stroke-width="1.0"/>
<line x1="386.58" y1="471.70" x2="386.58" y2="478.24" stroke="#000" stroke-width="1.0"/>
<line x1="384.58" y1="471.70" x2="388.58" y2="471.70" stroke="#000" stroke-width="1.0"/>
<line x1="384.58" y1="478.24" x2="388.58" y2="478.24" stroke="#000" stroke-width="1.0"/>
<line x1="420.72" y1="464.24" x2="420.72" y2="470.79" stroke="#000" stroke-width="1.0"/>
<line x1="418.72" y1="464.24" x2="422.72" y2="464.24" stroke="#000" stroke-width="1.0"/>
<line x1="418.72" y1="470.79" x2="422.72" y2="470.79" stroke="#000" stroke-width="1.0"/>
<line x1="454.86" y1="460.06" x2="454.86" y2="466.60" stroke="#000" stroke-width="1.0"/>
<line x1="452.86" y1="460.06" x2="456.86" y2="460.06" stroke="#000" stroke-width="1.0"/>
<line x1="452.86" y1="466.60" x2="456.86" y2="466.60" stroke="#000" stroke-width="1.0"/>
<line x1="489.00" y1="458.24" x2="489.00" y2="464.79" stroke="#000" stroke-width="1.0"/>
<line x1="487.00" y1="458.24" x2="491.00" y2="458.24" stroke="#000" stroke-width="1.0"/>
<line x1="487.00" y1="464.79" x2="491.00" y2="464.79" stroke="#000" stroke-width="1.0"/>
<polyline points="318.30,515.35 352.44,490.61 386.58,480.06 420.72,471.51 454.86,468.42 489.00,464.42" fill="none" stroke="#000" stroke-width="1.5"/>
<line x1="318.30" y1="513.53" x2="318.30" y2="517.17" stroke="#000" stroke-width="1.0"/>
<line x1="316.30" y1="513.53" x2="320.30" y2="513.53" stroke="#000" stroke-width="1.0"/>
<line x1="316.30" y1="517.17" x2="320.30" y2="517.17" stroke="#000" stroke-width="1.0"/>
<line x1="352.44" y1="488.43" x2="352.44" y2="492.79" stroke="#000" stroke-width="1.0"/>
<line x1="350.44" y1="488.43" x2="354.44" y2="488.43" stroke="#000" stroke-width="1.0"/>
<line x1="350.44" y1="492.79" x2="354.44" y2="492.79" stroke="#000" stroke-width="1.0"/>
<line x1="386.58" y1="477.88" x2="386.58" y2="482.25" stroke="#000" stroke-width="1.0"/>
<line x1="384.58" y1="477.88" x2="388.58" y2="477.88" stroke="#000" stroke-width="1.0"/>
<line x1="384.58" y1="482.25" x2="388.58" y2="482.25" stroke="#000" stroke-width="1.0"/>
<line x1="420.72" y1="469.33" x2="420.72" y2="473.70" stroke="#000" stroke-width="1.0"/>
<line x1="418.72" y1="469.33" x2="422.72" y2="469.33" stroke="#000" stroke-width="1.0"/>
<line x1="418.72" y1="473.70" x2="422.72" y2="473.70" stroke="#000" stroke-width="1.0"/>
<line x1="454.86" y1="466.24" x2="454.86" y2="470.61" stroke="#000" stroke-width="1.0"/>
<line x1="452.86" y1="466.24" x2="456.86" y2="466.24" stroke="#000" stroke-width="1.0"/>
<line x1="452.86" y1="470.61" x2="456.86" y2="470.61" stroke="#000" stroke-width="1.0"/>
<line x1="489.00" y1="462.24" x2="489.00" y2="466.60" stroke="#000" stroke-width="1.0"/>
<line x1="487.00" y1="462.24" x2="491.00" y2="462.24" stroke="#000" stroke-width="1.0"/>
<line x1="487.00" y1="466.60" x2="491.00" y2="466.60" stroke="#000" stroke-width="1.0"/>
<circle cx="318.30" cy="519.35" r="1.9" fill="none" stroke="#000" stroke-width="1.15"/>
<circle cx="352.44" cy="502.98" r="1.9" fill="none" stroke="#000" stroke-width="1.15"/>
<circle cx="386.58" cy="477.88" r="1.9" fill="none" stroke="#000" stroke-width="1.15"/>
<circle cx="420.72" cy="459.33" r="1.9" fill="none" stroke="#000" stroke-width="1.15"/>
<circle cx="454.86" cy="465.51" r="1.9" fill="none" stroke="#000" stroke-width="1.15"/>
<circle cx="489.00" cy="458.24" r="1.9" fill="none" stroke="#000" stroke-width="1.15"/>
<polygon points="318.30,513.67 320.70,517.99 315.90,517.99" fill="#000"/>
<polygon points="352.44,490.03 354.84,494.35 350.04,494.35" fill="#000"/>
<polygon points="386.58,478.75 388.98,483.07 384.18,483.07" fill="#000"/>
<polygon points="420.72,472.21 423.12,476.53 418.32,476.53" fill="#000"/>
<polygon points="454.86,467.11 457.26,471.43 452.46,471.43" fill="#000"/>
<polygon points="489.00,465.66 491.40,469.98 486.60,469.98" fill="#000"/>
<polygon points="316.14,512.58 320.46,512.58 318.30,516.41" fill="none" stroke="#000" stroke-width="1.1"/>
<polygon points="350.28,487.48 354.60,487.48 352.44,491.32" fill="none" stroke="#000" stroke-width="1.1"/>
<polygon points="384.42,473.29 388.74,473.29 386.58,477.13" fill="none" stroke="#000" stroke-width="1.1"/>
<polygon points="418.56,465.83 422.88,465.83 420.72,469.67" fill="none" stroke="#000" stroke-width="1.1"/>
<polygon points="452.70,461.65 457.02,461.65 454.86,465.49" fill="none" stroke="#000" stroke-width="1.1"/>
<polygon points="486.84,459.83 491.16,459.83 489.00,463.67" fill="none" stroke="#000" stroke-width="1.1"/>
<polygon points="318.30,512.59 319.01,514.38 320.92,514.49 319.44,515.72 319.92,517.58 318.30,516.55 316.68,517.58 317.16,515.72 315.68,514.49 317.59,514.38" fill="#000"/>
<polygon points="352.44,487.85 353.15,489.64 355.06,489.76 353.58,490.98 354.06,492.84 352.44,491.81 350.82,492.84 351.30,490.98 349.82,489.76 351.73,489.64" fill="#000"/>
<polygon points="386.58,477.30 387.29,479.09 389.20,479.21 387.72,480.43 388.20,482.30 386.58,481.26 384.96,482.30 385.44,480.43 383.96,479.21 385.87,479.09" fill="#000"/>
<polygon points="420.72,468.75 421.43,470.54 423.34,470.66 421.86,471.89 422.34,473.75 420.72,472.71 419.10,473.75 419.58,471.89 418.10,470.66 420.01,470.54" fill="#000"/>
<polygon points="454.86,465.66 455.57,467.45 457.48,467.57 456.00,468.79 456.48,470.66 454.86,469.62 453.24,470.66 453.72,468.79 452.24,467.57 454.15,467.45" fill="#000"/>
<polygon points="489.00,461.66 489.71,463.45 491.62,463.57 490.14,464.79 490.62,466.65 489.00,465.62 487.38,466.65 487.86,464.79 486.38,463.57 488.29,463.45" fill="#000"/>
<line x1="301.50" y1="422.20" x2="301.50" y2="571.70" stroke="#000" stroke-width="1.35"/>
<line x1="298.50" y1="571.00" x2="301.50" y2="571.00" stroke="#000" stroke-width="1.35"/>
<text transform="translate(294.00 573.60)" font-size="8.4" text-anchor="end" font-weight="normal" class="tk">0</text>
<line x1="298.50" y1="534.62" x2="301.50" y2="534.62" stroke="#000" stroke-width="1.35"/>
<text transform="translate(294.00 537.23)" font-size="8.4" text-anchor="end" font-weight="normal" class="tk">10</text>
<line x1="298.50" y1="498.25" x2="301.50" y2="498.25" stroke="#000" stroke-width="1.35"/>
<text transform="translate(294.00 500.85)" font-size="8.4" text-anchor="end" font-weight="normal" class="tk">20</text>
<line x1="298.50" y1="461.88" x2="301.50" y2="461.88" stroke="#000" stroke-width="1.35"/>
<text transform="translate(294.00 464.48)" font-size="8.4" text-anchor="end" font-weight="normal" class="tk">30</text>
<line x1="298.50" y1="425.50" x2="301.50" y2="425.50" stroke="#000" stroke-width="1.35"/>
<text transform="translate(294.00 428.10)" font-size="8.4" text-anchor="end" font-weight="normal" class="tk">40</text>
<line x1="301.50" y1="571.00" x2="506.50" y2="571.00" stroke="#000" stroke-width="1.35"/>
<line x1="318.30" y1="571.00" x2="318.30" y2="573.50" stroke="#000" stroke-width="1.35"/>
<line x1="352.44" y1="571.00" x2="352.44" y2="573.50" stroke="#000" stroke-width="1.35"/>
<line x1="386.58" y1="571.00" x2="386.58" y2="573.50" stroke="#000" stroke-width="1.35"/>
<line x1="420.72" y1="571.00" x2="420.72" y2="573.50" stroke="#000" stroke-width="1.35"/>
<line x1="454.86" y1="571.00" x2="454.86" y2="573.50" stroke="#000" stroke-width="1.35"/>
<line x1="489.00" y1="571.00" x2="489.00" y2="573.50" stroke="#000" stroke-width="1.35"/>
<text transform="translate(318.30 586.00)" font-size="8" text-anchor="middle" font-weight="normal">1</text>
<text transform="translate(352.44 586.00)" font-size="8" text-anchor="middle" font-weight="normal">2</text>
<text transform="translate(386.58 586.00)" font-size="8" text-anchor="middle" font-weight="normal">3</text>
<text transform="translate(420.72 586.00)" font-size="8" text-anchor="middle" font-weight="normal">4</text>
<text transform="translate(454.86 586.00)" font-size="8" text-anchor="middle" font-weight="normal">5</text>
<text transform="translate(489.00 586.00)" font-size="8" text-anchor="middle" font-weight="normal">6</text>
<text transform="translate(404.10 598.60)" x="0" y="0" font-size="10" text-anchor="middle" textLength="53.3" lengthAdjust="spacingAndGlyphs">Age (months)</text>
<text transform="translate(279.00 499.60) rotate(-90)" x="0" y="0" font-size="10" text-anchor="middle" textLength="59.0" lengthAdjust="spacingAndGlyphs">Weight (grams)</text>
<line x1="398.00" y1="511.40" x2="411.80" y2="511.40" stroke="#000" stroke-width="1.6"/>
<circle cx="404.90" cy="511.40" r="1.9" fill="none" stroke="#000" stroke-width="1.15"/>
<text transform="translate(416.90 514.20)" font-size="7.75" text-anchor="start" font-weight="normal">vehicle (n=11)</text>
<line x1="398.00" y1="523.30" x2="411.80" y2="523.30" stroke="#000" stroke-width="1.6"/>
<polygon points="404.90,520.90 407.30,525.22 402.50,525.22" fill="#000"/>
<text transform="translate(416.90 526.10)" font-size="7.75" text-anchor="start" font-weight="normal">AMD (n=9)</text>
<line x1="398.00" y1="535.20" x2="411.80" y2="535.20" stroke="#000" stroke-width="1.6"/>
<polygon points="402.74,533.52 407.06,533.52 404.90,537.36" fill="none" stroke="#000" stroke-width="1.1"/>
<text transform="translate(416.90 538.00)" font-size="7.75" text-anchor="start" font-weight="normal">firategrast (n=11)</text>
<line x1="398.00" y1="547.10" x2="411.80" y2="547.10" stroke="#000" stroke-width="1.6"/>
<polygon points="404.90,544.34 405.61,546.13 407.52,546.25 406.04,547.47 406.52,549.33 404.90,548.30 403.28,549.33 403.76,547.47 402.28,546.25 404.19,546.13" fill="#000"/>
<text transform="translate(416.90 549.90)" font-size="7.75" text-anchor="start" font-weight="normal">firategrast + AMD (n=10)</text>
<rect x="0" y="0" width="520" height="1.5" fill="#000"/>
<rect x="0" y="0" width="1.5" height="629" fill="#000"/>
<rect x="518.5" y="0" width="1.5" height="629" fill="#000"/>
<rect x="0" y="627" width="520" height="2" fill="#000"/>
</svg>
</body></html>
